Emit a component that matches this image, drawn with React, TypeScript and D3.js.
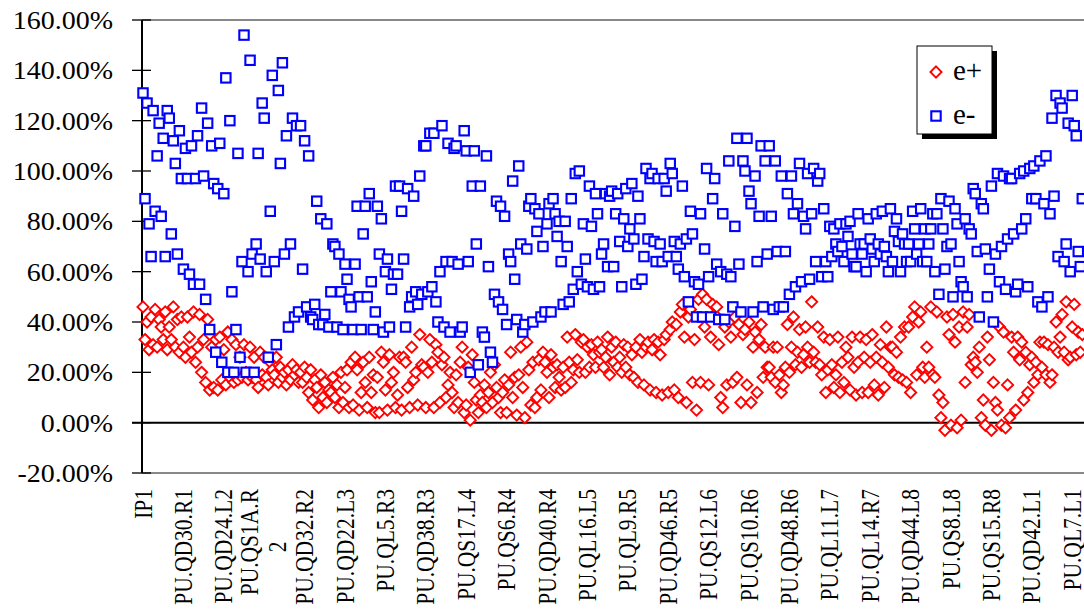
import React from 'react';
import * as d3 from 'd3';

// category labels shown on the x axis (every labelStep-th element)
const tickLabels = [
  'IP1', 'PU.QD30.R1', 'PU.QD24.L2', 'PU.QS1A.R 2', 'PU.QD32.R2', 'PU.QD22.L3',
  'PU.QL5.R3', 'PU.QD38.R3', 'PU.QS17.L4', 'PU.QS6.R4', 'PU.QD40.R4', 'PU.QL16.L5',
  'PU.QL9.R5', 'PU.QD46.R5', 'PU.QS12.L6', 'PU.QS10.R6', 'PU.QD48.R6', 'PU.QL11.L7',
  'PU.QL14.R7', 'PU.QD44.L8', 'PU.QS8.L8', 'PU.QS15.R8', 'PU.QD42.L1', 'PU.QL7.L1',
];
const labelStep = 20;

const yTicks = [-20, 0, 20, 40, 60, 80, 100, 120, 140, 160];

// e+ values in percent, one per element
const ePlus = [
  46, 33, 40, 29, 42, 31, 45, 30, 41, 38, 33, 44, 29, 38, 33, 46, 30, 41, 28, 42,
  30, 26, 42, 34, 28, 44, 24, 30, 43, 20, 33, 16, 41, 13, 30, 14, 33, 13, 34, 17,
  29, 15, 36, 18, 33, 16, 31, 17, 26, 18, 31, 20, 17, 30, 18, 26, 17, 14, 28, 19,
  26, 18, 15, 24, 21, 19, 26, 16, 22, 18, 20, 15, 21, 17, 23, 19, 21, 16,
  20, 16, 22, 18, 12, 21, 9, 17, 14, 6, 19, 10, 16, 8, 13,
  12, 18, 10, 15, 6, 20, 8, 14, 21, 6, 24, 7, 26, 21, 5, 12, 24, 16, 6, 26,
  12, 19, 4, 18, 4, 28, 24, 13, 5, 27, 16, 20, 6, 11, 26, 5, 26, 24, 14, 6,
  30, 17, 20, 7, 35, 23, 22, 6, 20, 33, 24, 6, 31, 28, 8, 23, 26, 10, 15, 20, 12, 6,
  19, 8, 24, 30, 4, 7, 22, 1, 27, 16, 9, 4, 11, 8, 15, 6, 12, 20, 8, 23,
  14, 10, 4, 12, 17, 4, 15, 28, 10, 18, 3, 19, 30, 14, 2, 32, 21, 7, 24, 6,
  10, 25, 13, 28, 24, 20, 10, 27, 22, 14, 23, 18, 13, 22, 14, 34, 24, 16, 21, 35,
  25, 20, 32, 33, 20, 30, 22, 31, 27, 22, 32, 28, 29, 22, 26, 34, 19,
  30, 24, 32, 22, 26, 20, 31, 22, 30, 19, 27, 18, 30, 16, 33, 28, 15, 30, 32, 13,
  29, 33, 12, 32, 27, 11, 33, 35, 12, 37, 40, 13, 39, 10, 44, 47, 34, 8, 42, 45,
  16, 33, 5, 49, 16, 51, 38, 49, 15, 34, 47, 43, 46, 31, 10, 6, 38, 15, 40, 34,
  16, 42, 18, 39, 8, 35, 37, 15, 40, 8, 30, 36, 12, 33, 39, 18, 30, 22,
  22, 18, 30, 16, 30, 19, 12, 15, 22, 39, 20, 30, 42, 23, 28, 37, 22, 27, 38, 30,
  24, 48, 28, 24, 38, 23, 19, 34, 12, 21, 33, 23, 14, 19, 34, 12, 24, 16, 30, 26,
  13, 34, 22, 11, 24, 34, 12, 26, 33, 12, 24, 35, 15, 26, 11, 31, 24, 14, 38, 22,
  30, 30, 19, 28, 18, 34, 17, 38, 16, 38, 12, 42, 46, 19, 40, 44, 22, 18,
  30, 22, 46, 19, 18, 44, 11, 2, 8, -3, 42, 35, -1, 43, 32, -2, 38, 1, 44, 16,
  38, 43, 23, 26, 24, 20, 30, 2, 9, -1, 34, 25, -3, 16, 8, 5, 38, -1, 36, -2,
  15, 2, 34, 28, 5, 34, 25, 32, 9, 28, 12, 23, 26, 16, 24, 19, 32, 22, 32, 19,
  31, 16, 19, 30, 40, 28, 34, 43, 28, 48, 25, 26, 38, 47, 27, 36, 28, 35,
];

// e- values in percent, one per element
const eMinus = [
  131, 89, 127, 79, 66, 124, 84, 106, 119, 82, 113, 66, 124, 121, 75, 112, 103, 67, 116, 97,
  61, 109, 97, 59, 110, 55, 97, 114, 55, 125, 98, 49, 119, 37, 110, 95, 28, 93, 111, 24,
  91, 137, 20, 120, 52, 20, 37, 107, 26, 64, 154, 20, 60, 144, 67, 20, 71, 107, 65, 127,
  121, 60, 26, 84, 138, 64, 31, 132, 103, 143, 67, 114, 38, 71, 121, 42, 118, 44,
  118, 61, 112, 46, 106, 42, 41, 47, 88, 39, 81, 39, 43, 79, 38, 52, 71, 70, 38, 67,
  52, 37, 63, 57, 49, 46, 37, 63, 86, 50, 37, 75, 86, 50, 91, 56, 37, 44, 86, 67,
  81, 36, 60, 65, 38, 53, 59, 94, 59, 94, 84, 65, 38, 93, 46, 50, 90, 52, 47, 98,
  51, 110, 110, 52, 115, 54, 115, 48, 40, 60, 118, 38, 64, 111, 36, 64, 109,
  110, 63, 36, 38, 116, 108, 64, 20, 94, 108, 71, 23, 94, 36, 34, 106, 62, 28, 24, 51,
  88, 48, 86, 45, 82, 39, 67, 64, 96, 57, 41, 102, 71, 36, 39, 69, 86, 89, 40, 85,
  76, 83, 42, 70, 44, 79, 87, 44, 89, 83, 74, 80, 64, 47, 80, 70, 48, 89, 53, 99,
  60, 100, 55, 79, 65, 54, 94, 78, 53, 91, 83, 54, 67, 71, 91, 62, 90,
  92, 62, 83, 91, 72, 54, 81, 93, 70, 77, 95, 73, 55, 90, 81, 57, 66, 101, 73, 97,
  99, 72, 64, 97, 71, 64, 97, 92, 66, 103, 99, 72, 66, 61, 71, 94, 58, 73, 48, 84,
  75, 56, 42, 55, 83, 42, 69, 101, 58, 42, 89, 97, 63, 41, 60, 83, 41, 59, 104, 58,
  46, 78, 113, 63, 44, 104, 100, 113, 92, 87, 44, 98, 64, 82, 110, 46, 104, 67,
  110, 82, 45, 104, 68, 46, 98, 46, 68, 91, 51, 98, 83, 54, 87, 103, 56, 82, 77, 99,
  57, 83, 101, 64, 96, 99, 58, 85, 64, 58, 78, 66, 77, 71, 68, 79, 70, 64, 79, 74,
  80, 67, 62, 62, 83, 71, 67, 71, 60, 81, 73, 69, 64, 83, 71, 67, 84, 70, 66, 60,
  85, 64, 76, 81, 72, 60, 75, 71, 64, 71, 64, 84, 77, 67, 71, 85, 64, 77,
  64, 71, 77, 83, 60, 83, 51, 89, 77, 61, 70, 88, 71, 50, 85, 79, 64, 56, 54, 81,
  50, 77, 75, 93, 91, 68, 42, 87, 85, 69, 50, 61, 94, 40, 67, 99, 56, 70, 98, 53,
  73, 97, 97, 75, 52, 55, 99, 77, 100, 81, 54, 101, 89, 102, 89, 48, 104, 46, 87, 106,
  50, 83, 121, 90, 130, 66, 127, 125, 64, 71, 119, 60, 130, 118, 114, 68, 62, 89,
];

const width = 1084;
const height = 615;
const marginLeft = 142;
const marginTop = 20;
const plotBottom = 473;
const labelSpacing = 40.4; // px between labelled elements
const nCats = 480; // the ring continues past the right edge of the picture
const serif = "'Liberation Serif', 'Times New Roman', Times, serif";

const diamond = 'M0,-5.6L5.6,0L0,5.6L-5.6,0Z';

const fmt = (v: number) => `${v.toFixed(2)}%`;

export default function App() {
  const x = d3.scaleLinear()
    .domain([-0.5, nCats - 0.5])
    .range([marginLeft, marginLeft + (nCats * labelSpacing) / labelStep]);
  const y = d3.scaleLinear().domain([-20, 160]).range([plotBottom, marginTop]);
  const right = x.range()[1];

  return (
    <svg width={width} height={height} style={{ position: 'absolute', left: 0, top: 0, background: '#fff' }}
      fontFamily={serif}>
      {/* plot area frame */}
      <line x1={marginLeft} x2={right} y1={y(160)} y2={y(160)} stroke="#888" strokeWidth={2} />
      <line x1={marginLeft} x2={right} y1={y(-20)} y2={y(-20)} stroke="#888" strokeWidth={2} />

      {/* y axis */}
      <line x1={marginLeft} x2={marginLeft} y1={y(160)} y2={y(-20)} stroke="#000" strokeWidth={2} />
      {yTicks.map(t => (
        <g key={t}>
          <line x1={marginLeft - 10} x2={marginLeft + 9} y1={y(t)} y2={y(t)} stroke="#000" strokeWidth={1.3} />
          <text transform={`translate(113,${y(t)}) scale(1.12,1)`} textAnchor="end" dy="0.36em"
            fontSize={25} fontFamily={serif}>
            {fmt(t)}
          </text>
        </g>
      ))}

      {/* category axis at 0% */}
      <line x1={marginLeft - 10} x2={right} y1={y(0)} y2={y(0)} stroke="#000" strokeWidth={2} />

      {/* x labels */}
      {tickLabels.map((lab, j) => {
        const lines = lab.split(' ');
        const cx = x(j * labelStep);
        return lines.length === 1 ? (
          <text key={lab} transform={`translate(${cx},489) scale(1.15,1) rotate(-90)`} textAnchor="end"
            dy="0.35em" fontSize={21.5} fontFamily={serif}>{lab}</text>
        ) : (
          <g key={lab}>
            <text transform={`translate(${cx - 15},489) scale(1.15,1) rotate(-90)`} textAnchor="end"
              dy="0.35em" fontSize={21.5} fontFamily={serif}>{lines[0]}</text>
            <text transform={`translate(${cx + 13},${489 + 58}) scale(1.15,1) rotate(-90)`} textAnchor="middle"
              dy="0.35em" fontSize={21.5} fontFamily={serif}>{lines[1]}</text>
          </g>
        );
      })}

      {/* e+ markers */}
      <g>
        {ePlus.map((v, i) => (
          <path key={i} d={diamond} transform={`translate(${x(i)},${y(v)})`}
            fill="#fff" stroke="#ff0000" strokeWidth={1.9} />
        ))}
      </g>
      {/* e- markers */}
      <g>
        {eMinus.map((v, i) => (
          <rect key={i} x={x(i) - 4.7} y={y(v) - 4.7} width={9.4} height={9.4}
            fill="#fff" stroke="#0000ff" strokeWidth={2.1} />
        ))}
      </g>

      {/* legend */}
      <g>
        <rect x={922} y={51} width={75} height={88} fill="#000" />
        <rect x={917} y={46} width={75} height={88} fill="#fff" stroke="#000" strokeWidth={1} />
        <path d={diamond} transform="translate(936,72)" fill="#fff" stroke="#ff0000" strokeWidth={1.9} />
        <text x={953} y={80} fontSize={29} fontFamily={serif}>e+</text>
        <rect x={936 - 4.7} y={116 - 4.7} width={9.4} height={9.4} fill="#fff" stroke="#0000ff" strokeWidth={2.1} />
        <text x={953} y={124} fontSize={29} fontFamily={serif}>e-</text>
      </g>
    </svg>
  );
}
